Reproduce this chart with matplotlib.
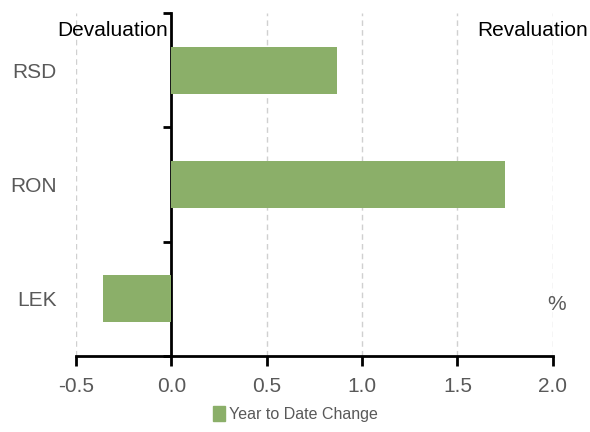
import matplotlib
matplotlib.use("Agg")
import matplotlib.pyplot as plt
from matplotlib.patches import Patch

plt.rcParams['font.family'] = ['Liberation Sans', 'DejaVu Sans']

currencies = ["LEK", "RON", "RSD"]
ytd_change = [-0.36, 1.75, 0.87]
x_ticks = [-0.5, 0.0, 0.5, 1.0, 1.5, 2.0]
x_tick_labels = ["-0.5", "0.0", "0.5", "1.0", "1.5", "2.0"]

bar_color = "#8BAF69"
grey_text = "#595959"

fig = plt.figure(figsize=(5.9, 4.32), dpi=100)
ax = fig.add_axes([0.129, 0.176, 0.808, 0.794])

ypos = list(range(len(currencies)))
ax.barh(ypos, ytd_change, height=0.41, color=bar_color, zorder=2)

ax.set_xlim(-0.5, 2.0)
ax.set_ylim(-0.5, len(currencies) - 0.5)

# dashed vertical gridlines (skip zero, the axis line sits there)
for xv in x_ticks:
    if xv != 0:
        ax.axvline(xv, color="#D0D0D0", linestyle=(0, (4, 3)), linewidth=1.0, zorder=1)

ax.set_xticks(x_ticks)
ax.set_xticklabels(x_tick_labels, fontsize=15, color=grey_text)
ax.tick_params(axis="x", direction="out", length=7, width=2, color="black", pad=8)

ax.set_yticks(ypos)
ax.set_yticklabels(currencies, fontsize=15, color=grey_text)
ax.tick_params(axis="y", length=0, pad=14)

for side in ["top", "right", "left"]:
    ax.spines[side].set_visible(False)
ax.spines["bottom"].set_linewidth(2)
ax.spines["bottom"].set_zorder(3)

# category axis drawn at x = 0
zero_frac = (0 - ax.get_xlim()[0]) / (ax.get_xlim()[1] - ax.get_xlim()[0])
cat_axis = ax.secondary_yaxis(zero_frac)
cat_axis.set_yticks([i + 0.5 for i in range(-1, len(currencies))])
cat_axis.set_yticklabels([])
cat_axis.tick_params(direction="out", length=6, width=2)
cat_axis.spines["left"].set_linewidth(2)

ax.text(-0.02, 2.35, "Devaluation", ha="right", va="center", fontsize=15, color="black")
ax.text(1.605, 2.35, "Revaluation", ha="left", va="center", fontsize=15, color="black")
ax.text(2.02, -0.05, "%", ha="center", va="center", fontsize=15, color=grey_text)

fig.legend(handles=[Patch(color=bar_color, label="Year to Date Change")],
           loc="lower center", bbox_to_anchor=(0.5, -0.01), frameon=False,
           fontsize=11.5, handlelength=0.8, handleheight=1.1, handletextpad=0.2,
           labelcolor=grey_text)

fig.savefig("out.png", dpi=100)
